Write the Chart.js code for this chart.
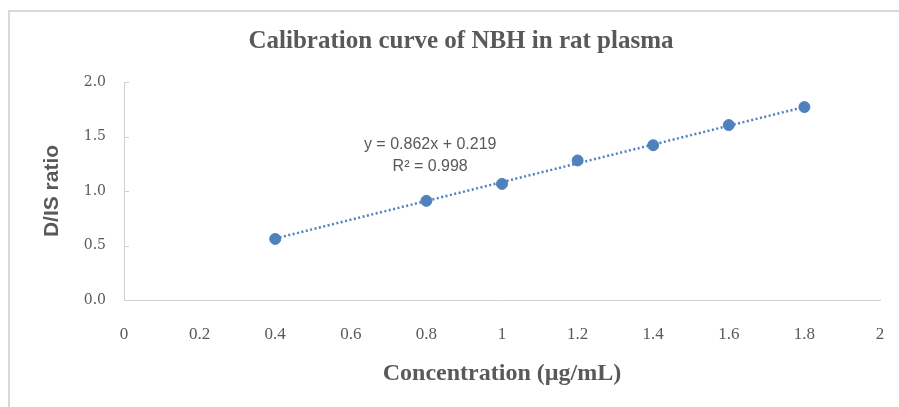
<!DOCTYPE html>
<html>
<head>
<meta charset="utf-8">
<title>Calibration curve of NBH in rat plasma</title>
<script src="https://cdn.jsdelivr.net/npm/chart.js@4"></script>
<style>
    body { margin: 0; background: #fff; }
    #wrap { position: relative; width: 899px; height: 407px; }
    #frame {
        position: absolute; left: 8px; top: 10px; right: 0; bottom: 0;
        border-top: 2px solid #d9d9d9; border-left: 2px solid #d9d9d9;
        pointer-events: none;
    }
    canvas { display: block; }
</style>
</head>
<body>
<div id="wrap">
    <canvas id="calChart" width="899" height="407"></canvas>
    <div id="frame"></div>
</div>
<script>
const concentrations = [0.4, 0.8, 1.0, 1.2, 1.4, 1.6, 1.8];
const ratios = [0.56, 0.91, 1.065, 1.28, 1.42, 1.605, 1.77];

// end points of the linear trendline
const trendX = [0.4, 1.8];
const trendY = [0.564, 1.771];

const equationLines = ['y = 0.862x + 0.219', 'R² = 0.998'];

const blue = '#4f81bd';
const grey = '#595959';
const axisGrey = '#d0d0d0';

const points = concentrations.map((c, i) => ({ x: c, y: ratios[i] }));
const trend = trendX.map((x, i) => ({ x: x, y: trendY[i] }));

// trendline label, placed in data space
const equationPlugin = {
    id: 'equation',
    afterDatasetsDraw(chart) {
        const ctx = chart.ctx;
        const xs = chart.scales.x;
        const ys = chart.scales.y;
        ctx.save();
        ctx.fillStyle = grey;
        ctx.font = '16px "Liberation Sans", Arial, sans-serif';
        ctx.textAlign = 'center';
        ctx.textBaseline = 'middle';
        ctx.fillText(equationLines[0], xs.getPixelForValue(0.81), ys.getPixelForValue(1.43));
        ctx.fillText(equationLines[1], xs.getPixelForValue(0.81), ys.getPixelForValue(1.22));
        ctx.restore();
    }
};

// small tick marks on the inside of the y axis
const innerTicks = {
    id: 'innerTicks',
    afterDraw(chart) {
        const ctx = chart.ctx;
        const ys = chart.scales.y;
        const left = chart.chartArea.left;
        ctx.save();
        ctx.strokeStyle = axisGrey;
        ctx.lineWidth = 1;
        ys.ticks.forEach((t, i) => {
            const y = Math.round(ys.getPixelForTick(i)) + 0.5;
            ctx.beginPath();
            ctx.moveTo(left, y);
            ctx.lineTo(left + 5, y);
            ctx.stroke();
        });
        ctx.restore();
    }
};

new Chart(document.getElementById('calChart'), {
    type: 'scatter',
    data: {
        datasets: [
            {
                label: 'D/IS ratio',
                data: points,
                backgroundColor: blue,
                borderColor: blue,
                pointRadius: 5.5,
                pointHoverRadius: 5.5
            },
            {
                type: 'line',
                label: 'Linear fit',
                data: trend,
                borderColor: blue,
                borderWidth: 2.5,
                borderDash: [2, 2.5],
                pointRadius: 0,
                fill: false
            }
        ]
    },
    options: {
        responsive: false,
        animation: false,
        layout: { padding: { left: 42, right: 19, top: 0, bottom: 0 } },
        plugins: {
            legend: { display: false },
            tooltip: { enabled: false },
            title: {
                display: true,
                text: 'Calibration curve of NBH in rat plasma',
                color: grey,
                font: { family: '"Liberation Serif", "Times New Roman", serif', size: 25, weight: 'bold' },
                padding: { top: 27, bottom: 25 }
            }
        },
        scales: {
            x: {
                type: 'linear',
                min: 0,
                max: 2,
                // invisible tick marks push the labels down without widening the side padding
                grid: { display: true, drawOnChartArea: false, drawTicks: true, tickLength: 20, color: 'rgba(0,0,0,0)' },
                border: { display: true, color: axisGrey, width: 1 },
                ticks: {
                    stepSize: 0.2,
                    padding: 4,
                    color: grey,
                    font: { family: '"Liberation Serif", "Times New Roman", serif', size: 17 },
                    callback: v => String(parseFloat(v.toFixed(1)))
                },
                title: {
                    display: true,
                    text: 'Concentration (µg/mL)',
                    color: grey,
                    font: { family: '"Liberation Serif", "Times New Roman", serif', size: 24, weight: 'bold' },
                    padding: { top: 0, bottom: 19 }
                },
                afterFit(scale) { scale.height = 107; }
            },
            y: {
                min: 0,
                max: 2,
                grid: { display: false, drawTicks: false },
                border: { display: true, color: axisGrey, width: 1 },
                ticks: {
                    stepSize: 0.5,
                    padding: 18,
                    color: grey,
                    font: { family: '"DejaVu Serif", serif', size: 14 },
                    callback: v => v.toFixed(1)
                },
                title: {
                    display: true,
                    text: 'D/IS ratio',
                    color: grey,
                    font: { family: '"Liberation Sans", Arial, sans-serif', size: 21, weight: 'bold', lineHeight: 1 },
                    padding: { top: -0.5, bottom: 0 }
                },
                afterFit(scale) { scale.width = 82; }
            }
        }
    },
    plugins: [equationPlugin, innerTicks]
});
</script>
</body>
</html>
